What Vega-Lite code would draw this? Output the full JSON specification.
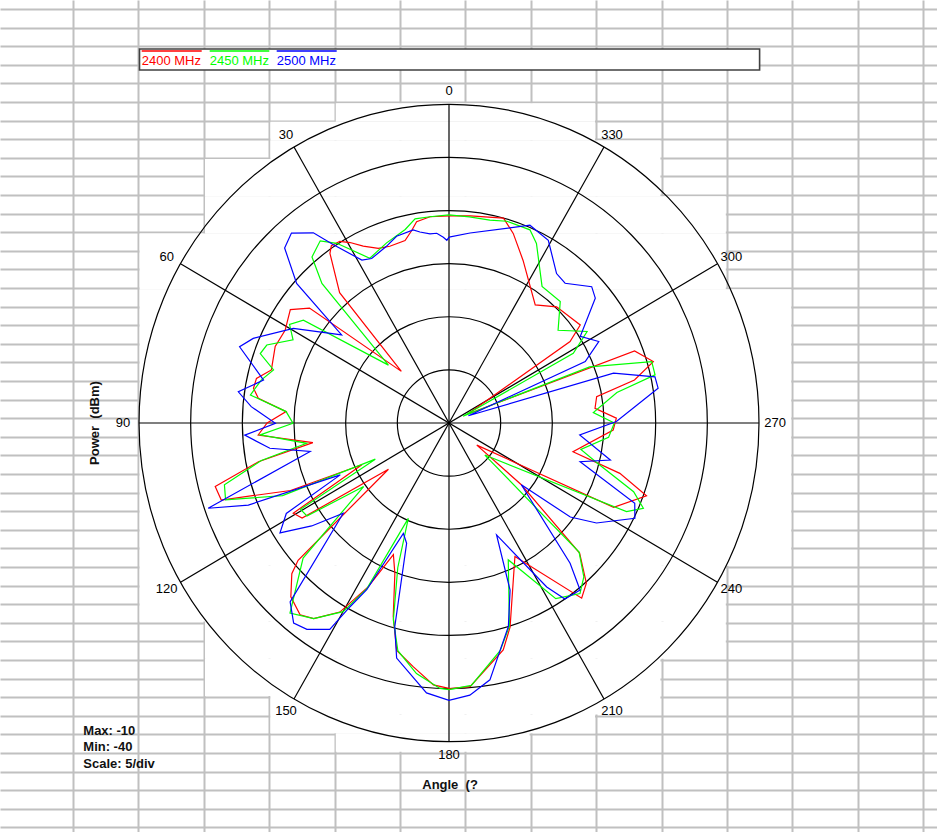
{
  "$schema": "https://vega.github.io/schema/vega-lite/v6.json",
  "width": 937,
  "height": 832,
  "autosize": {"type": "none"},
  "padding": 0,
  "background": "white",
  "config": {"view": {"stroke": null}, "font": "Liberation Sans"},
  "layer": [
    {
      "data": {"values": [
        {"r0": 5, "r1": 6, "c0": 4, "c1": 8},
        {"r0": 6, "r1": 7, "c0": 3, "c1": 8},
        {"r0": 7, "r1": 8, "c0": 3, "c1": 9},
        {"r0": 8, "r1": 10, "c0": 2, "c1": 9},
        {"r0": 10, "r1": 12, "c0": 2, "c1": 10},
        {"r0": 12, "r1": 15, "c0": 1, "c1": 10},
        {"r0": 15, "r1": 30, "c0": 1, "c1": 11},
        {"r0": 30, "r1": 33, "c0": 1, "c1": 10},
        {"r0": 33, "r1": 35, "c0": 2, "c1": 10},
        {"r0": 35, "r1": 37, "c0": 2, "c1": 9},
        {"r0": 37, "r1": 38, "c0": 3, "c1": 9},
        {"r0": 38, "r1": 39, "c0": 3, "c1": 8},
        {"r0": 39, "r1": 40, "c0": 4, "c1": 7}
      ]},
      "transform": [
        {"calculate": "-36.388 + 6.3291 * datum.c0 + 0.1161", "as": "x0"},
        {"calculate": "-36.388 + 6.3291 * datum.c1 - 0.1161", "as": "x1"},
        {"calculate": "38.972 - 1.75092 * datum.r0 + (datum.r0 <= 22 ? -0.113 : 0.113)", "as": "y0"},
        {"calculate": "38.972 - 1.75092 * datum.r1 + (datum.r1 <= 22 ? -0.113 : 0.113)", "as": "y1"}
      ],
      "mark": {"type": "rect", "fill": "white"},
      "encoding": {
        "x": {"field": "x0", "type": "quantitative",
              "scale": {"domain": [-43.452, 47.226], "nice": false, "zero": false},
              "axis": {"values": [-36.388,-30.059,-23.73,-17.401,-11.071,-4.742,1.587,7.916,14.245,20.574,26.903,33.232,39.561,45.89], "tickCount": 100, "grid": true, "gridColor": "#c0c0c0", "gridWidth": 2, "gridOpacity": 1, "labels": false, "ticks": false, "domain": false, "title": null}},
        "x2": {"field": "x1"},
        "y": {"field": "y0", "type": "quantitative",
              "scale": {"domain": [-38.502, 39.82], "nice": false, "zero": false},
              "axis": {"values": [38.972,37.221,35.47,33.719,31.968,30.217,28.466,26.716,24.965,23.214,21.463,19.712,17.961,16.21,14.459,12.708,10.957,9.206,7.455,5.704,3.954,2.203,0.452,-1.299,-3.05,-4.801,-6.552,-8.303,-10.054,-11.805,-13.556,-15.307,-17.058,-18.808,-20.559,-22.31,-24.061,-25.812,-27.563,-29.314,-31.065,-32.816,-34.567,-36.318,-38.068], "tickCount": 100, "grid": true, "gridColor": "#c0c0c0", "gridWidth": 2, "gridOpacity": 1, "labels": false, "ticks": false, "domain": false, "title": null}},
        "y2": {"field": "y1"}
      }
    },
    {"data": {"values": [{"level": -35}]}, "mark": {"type": "point", "shape": "M -1 0 A 1 1.02805 0 0 1 0 -1.02805 A 1 1.02805 0 0 1 1 0 A 1 1.02805 0 0 1 0 1.02805 A 1 1.02805 0 0 1 -1 0 Z", "size": 10677, "filled": false, "stroke": "black", "strokeWidth": 1.2, "opacity": 1}, "encoding": {"x": {"datum": 0, "type": "quantitative"}, "y": {"datum": 0, "type": "quantitative"}}},
    {"data": {"values": [{"level": -30}]}, "mark": {"type": "point", "shape": "M -1 0 A 1 1.02805 0 0 1 0 -1.02805 A 1 1.02805 0 0 1 1 0 A 1 1.02805 0 0 1 0 1.02805 A 1 1.02805 0 0 1 -1 0 Z", "size": 42710, "filled": false, "stroke": "black", "strokeWidth": 1.2, "opacity": 1}, "encoding": {"x": {"datum": 0, "type": "quantitative"}, "y": {"datum": 0, "type": "quantitative"}}},
    {"data": {"values": [{"level": -25}]}, "mark": {"type": "point", "shape": "M -1 0 A 1 1.02805 0 0 1 0 -1.02805 A 1 1.02805 0 0 1 1 0 A 1 1.02805 0 0 1 0 1.02805 A 1 1.02805 0 0 1 -1 0 Z", "size": 96097, "filled": false, "stroke": "black", "strokeWidth": 1.2, "opacity": 1}, "encoding": {"x": {"datum": 0, "type": "quantitative"}, "y": {"datum": 0, "type": "quantitative"}}},
    {"data": {"values": [{"level": -20}]}, "mark": {"type": "point", "shape": "M -1 0 A 1 1.02805 0 0 1 0 -1.02805 A 1 1.02805 0 0 1 1 0 A 1 1.02805 0 0 1 0 1.02805 A 1 1.02805 0 0 1 -1 0 Z", "size": 170840, "filled": false, "stroke": "black", "strokeWidth": 1.2, "opacity": 1}, "encoding": {"x": {"datum": 0, "type": "quantitative"}, "y": {"datum": 0, "type": "quantitative"}}},
    {"data": {"values": [{"level": -15}]}, "mark": {"type": "point", "shape": "M -1 0 A 1 1.02805 0 0 1 0 -1.02805 A 1 1.02805 0 0 1 1 0 A 1 1.02805 0 0 1 0 1.02805 A 1 1.02805 0 0 1 -1 0 Z", "size": 266937, "filled": false, "stroke": "black", "strokeWidth": 1.2, "opacity": 1}, "encoding": {"x": {"datum": 0, "type": "quantitative"}, "y": {"datum": 0, "type": "quantitative"}}},
    {"data": {"values": [{"level": -10}]}, "mark": {"type": "point", "shape": "M -1 0 A 1 1.02805 0 0 1 0 -1.02805 A 1 1.02805 0 0 1 1 0 A 1 1.02805 0 0 1 0 1.02805 A 1 1.02805 0 0 1 -1 0 Z", "size": 384390, "filled": false, "stroke": "black", "strokeWidth": 1.2, "opacity": 1}, "encoding": {"x": {"datum": 0, "type": "quantitative"}, "y": {"datum": 0, "type": "quantitative"}}},
    {
      "data": {"values": [{"a": 0}, {"a": 30}, {"a": 60}, {"a": 90}, {"a": 120}, {"a": 150}]},
      "transform": [
        {"calculate": "-30 * sin(datum.a * PI / 180)", "as": "sx1"},
        {"calculate": "30 * cos(datum.a * PI / 180)", "as": "sy1"},
        {"calculate": "30 * sin(datum.a * PI / 180)", "as": "sx2"},
        {"calculate": "-30 * cos(datum.a * PI / 180)", "as": "sy2"}
      ],
      "mark": {"type": "rule", "color": "black", "strokeWidth": 1.2},
      "encoding": {
        "x": {"field": "sx1", "type": "quantitative"},
        "y": {"field": "sy1", "type": "quantitative"},
        "x2": {"field": "sx2"},
        "y2": {"field": "sy2"}
      }
    },
    {
      "data": {"values": [{"a": 0}, {"a": 30}, {"a": 60}, {"a": 90}, {"a": 120}, {"a": 150}, {"a": 180}, {"a": 210}, {"a": 240}, {"a": 270}, {"a": 300}, {"a": 330}]},
      "transform": [
        {"calculate": "-31.55 * sin(datum.a * PI / 180)", "as": "lx"},
        {"calculate": "31.3 * cos(datum.a * PI / 180)", "as": "ly"},
        {"calculate": "'' + datum.a", "as": "lab"}
      ],
      "mark": {"type": "text", "fontSize": 13, "color": "black", "align": "center", "baseline": "middle"},
      "encoding": {
        "x": {"field": "lx", "type": "quantitative"},
        "y": {"field": "ly", "type": "quantitative"},
        "text": {"field": "lab", "type": "nominal"}
      }
    },
    {
      "data": {"values": [
        {"series":"2400 MHz","angle":0,"power":-20.5},{"series":"2400 MHz","angle":5.4,"power":-20.5},{"series":"2400 MHz","angle":9.4,"power":-20.8},{"series":"2400 MHz","angle":11.2,"power":-21.5},{"series":"2400 MHz","angle":13.9,"power":-22.3},{"series":"2400 MHz","angle":19,"power":-22.4},{"series":"2400 MHz","angle":22.6,"power":-22.2},{"series":"2400 MHz","angle":26.5,"power":-21.4},{"series":"2400 MHz","angle":29.4,"power":-20.5},{"series":"2400 MHz","angle":31.7,"power":-19.9},{"series":"2400 MHz","angle":34.3,"power":-19.8},{"series":"2400 MHz","angle":35.8,"power":-20.3},{"series":"2400 MHz","angle":40.8,"power":-23.8},{"series":"2400 MHz","angle":43.5,"power":-33.3},{"series":"2400 MHz","angle":51.3,"power":-22.7},{"series":"2400 MHz","angle":55.2,"power":-21.3},{"series":"2400 MHz","angle":61.2,"power":-21.9},{"series":"2400 MHz","angle":66.8,"power":-21.7},{"series":"2400 MHz","angle":73.8,"power":-22.1},{"series":"2400 MHz","angle":77.3,"power":-20.9},{"series":"2400 MHz","angle":80.2,"power":-20.8},{"series":"2400 MHz","angle":82.8,"power":-21.4},{"series":"2400 MHz","angle":86.1,"power":-24.2},{"series":"2400 MHz","angle":90,"power":-22.4},{"series":"2400 MHz","angle":93.5,"power":-21.5},{"series":"2400 MHz","angle":98,"power":-26.7},{"series":"2400 MHz","angle":101.2,"power":-21.2},{"series":"2400 MHz","angle":104.8,"power":-16.6},{"series":"2400 MHz","angle":108.2,"power":-16.8},{"series":"2400 MHz","angle":112.5,"power":-23.4},{"series":"2400 MHz","angle":115,"power":-30.7},{"series":"2400 MHz","angle":119.4,"power":-22.7},{"series":"2400 MHz","angle":122.2,"power":-23.2},{"series":"2400 MHz","angle":126.6,"power":-32.7},{"series":"2400 MHz","angle":131.5,"power":-20.5},{"series":"2400 MHz","angle":133,"power":-19.2},{"series":"2400 MHz","angle":136.9,"power":-17.6},{"series":"2400 MHz","angle":141.4,"power":-16.9},{"series":"2400 MHz","angle":144.6,"power":-17.4},{"series":"2400 MHz","angle":149.3,"power":-19.3},{"series":"2400 MHz","angle":153.1,"power":-22.7},{"series":"2400 MHz","angle":156.5,"power":-26.5},{"series":"2400 MHz","angle":159.7,"power":-24.9},{"series":"2400 MHz","angle":163.5,"power":-21},{"series":"2400 MHz","angle":166.7,"power":-18},{"series":"2400 MHz","angle":171.4,"power":-16.8},{"series":"2400 MHz","angle":176.5,"power":-15.3},{"series":"2400 MHz","angle":180.2,"power":-15},{"series":"2400 MHz","angle":184.7,"power":-15.1},{"series":"2400 MHz","angle":193.8,"power":-18},{"series":"2400 MHz","angle":197.1,"power":-19.9},{"series":"2400 MHz","angle":206.9,"power":-25.9},{"series":"2400 MHz","angle":217.9,"power":-19.1},{"series":"2400 MHz","angle":221.4,"power":-19.9},{"series":"2400 MHz","angle":225.9,"power":-22.4},{"series":"2400 MHz","angle":230.3,"power":-30.9},{"series":"2400 MHz","angle":232.3,"power":-36.6},{"series":"2400 MHz","angle":243.5,"power":-22.2},{"series":"2400 MHz","angle":250.3,"power":-19.7},{"series":"2400 MHz","angle":254,"power":-22.8},{"series":"2400 MHz","angle":257.3,"power":-27.7},{"series":"2400 MHz","angle":267.6,"power":-24.1},{"series":"2400 MHz","angle":271.6,"power":-23.8},{"series":"2400 MHz","angle":275.6,"power":-25.8},{"series":"2400 MHz","angle":279.8,"power":-25.5},{"series":"2400 MHz","angle":282.7,"power":-21.6},{"series":"2400 MHz","angle":286.3,"power":-19.4},{"series":"2400 MHz","angle":290.7,"power":-20.8},{"series":"2400 MHz","angle":295,"power":-38},{"series":"2400 MHz","angle":303.2,"power":-26},{"series":"2400 MHz","angle":306,"power":-24.3},{"series":"2400 MHz","angle":316.4,"power":-24.9},{"series":"2400 MHz","angle":323.1,"power":-26.1},{"series":"2400 MHz","angle":334.9,"power":-23.1},{"series":"2400 MHz","angle":340.8,"power":-21.1},{"series":"2400 MHz","angle":344.7,"power":-20},{"series":"2400 MHz","angle":354,"power":-20.4},{"series":"2400 MHz","angle":360,"power":-20.5},
        {"series":"2450 MHz","angle":0,"power":-20.4},{"series":"2450 MHz","angle":5.4,"power":-20.5},{"series":"2450 MHz","angle":9.7,"power":-20.5},{"series":"2450 MHz","angle":13.1,"power":-21.3},{"series":"2450 MHz","angle":19.6,"power":-22},{"series":"2450 MHz","angle":26.3,"power":-22.7},{"series":"2450 MHz","angle":32.7,"power":-19.9},{"series":"2450 MHz","angle":36,"power":-18.8},{"series":"2450 MHz","angle":40.3,"power":-19.5},{"series":"2450 MHz","angle":43.1,"power":-22},{"series":"2450 MHz","angle":47.1,"power":-32},{"series":"2450 MHz","angle":55.5,"power":-22.9},{"series":"2450 MHz","angle":59,"power":-22},{"series":"2450 MHz","angle":62.6,"power":-23},{"series":"2450 MHz","angle":67.4,"power":-20.9},{"series":"2450 MHz","angle":70.3,"power":-20.6},{"series":"2450 MHz","angle":73.6,"power":-22.3},{"series":"2450 MHz","angle":77.4,"power":-21.4},{"series":"2450 MHz","angle":82.2,"power":-20.6},{"series":"2450 MHz","angle":86.1,"power":-24.2},{"series":"2450 MHz","angle":90.1,"power":-24.9},{"series":"2450 MHz","angle":93.5,"power":-21.7},{"series":"2450 MHz","angle":97.9,"power":-26.1},{"series":"2450 MHz","angle":101,"power":-21.5},{"series":"2450 MHz","angle":105,"power":-17.5},{"series":"2450 MHz","angle":108.5,"power":-17.2},{"series":"2450 MHz","angle":113,"power":-22.5},{"series":"2450 MHz","angle":115.5,"power":-32.1},{"series":"2450 MHz","angle":119.5,"power":-23.5},{"series":"2450 MHz","angle":122.5,"power":-23.7},{"series":"2450 MHz","angle":125.9,"power":-29.8},{"series":"2450 MHz","angle":132,"power":-21},{"series":"2450 MHz","angle":139.3,"power":-16.4},{"series":"2450 MHz","angle":144.6,"power":-17.4},{"series":"2450 MHz","angle":150,"power":-19.5},{"series":"2450 MHz","angle":153,"power":-22.5},{"series":"2450 MHz","angle":156.3,"power":-30.2},{"series":"2450 MHz","angle":160,"power":-25.5},{"series":"2450 MHz","angle":163.8,"power":-20.7},{"series":"2450 MHz","angle":167,"power":-18},{"series":"2450 MHz","angle":172.4,"power":-16.2},{"series":"2450 MHz","angle":178,"power":-15},{"series":"2450 MHz","angle":180,"power":-14.9},{"series":"2450 MHz","angle":185,"power":-15.2},{"series":"2450 MHz","angle":193,"power":-18},{"series":"2450 MHz","angle":197,"power":-20},{"series":"2450 MHz","angle":204,"power":-25.9},{"series":"2450 MHz","angle":212,"power":-20.5},{"series":"2450 MHz","angle":218.3,"power":-19.55},{"series":"2450 MHz","angle":222,"power":-20.5},{"series":"2450 MHz","angle":226,"power":-22.5},{"series":"2450 MHz","angle":229,"power":-35.4},{"series":"2450 MHz","angle":244.1,"power":-20.9},{"series":"2450 MHz","angle":246.9,"power":-19.55},{"series":"2450 MHz","angle":250.1,"power":-21},{"series":"2450 MHz","angle":255,"power":-25},{"series":"2450 MHz","angle":259,"power":-27},{"series":"2450 MHz","angle":265,"power":-24.5},{"series":"2450 MHz","angle":270,"power":-24},{"series":"2450 MHz","angle":274,"power":-26},{"series":"2450 MHz","angle":280,"power":-23.5},{"series":"2450 MHz","angle":282.8,"power":-19.55},{"series":"2450 MHz","angle":286.4,"power":-19.55},{"series":"2450 MHz","angle":291.2,"power":-25.4},{"series":"2450 MHz","angle":295,"power":-38.5},{"series":"2450 MHz","angle":298.6,"power":-26.3},{"series":"2450 MHz","angle":302.8,"power":-24.1},{"series":"2450 MHz","angle":309.6,"power":-26.3},{"series":"2450 MHz","angle":316.7,"power":-24.3},{"series":"2450 MHz","angle":325,"power":-24.3},{"series":"2450 MHz","angle":333.4,"power":-21.1},{"series":"2450 MHz","angle":336.7,"power":-20.2},{"series":"2450 MHz","angle":343.6,"power":-20.2},{"series":"2450 MHz","angle":348.3,"power":-20.5},{"series":"2450 MHz","angle":354.2,"power":-20.5},{"series":"2450 MHz","angle":360,"power":-20.4},
        {"series":"2500 MHz","angle":0,"power":-22.5},{"series":"2500 MHz","angle":0.7,"power":-22.8},{"series":"2500 MHz","angle":1.8,"power":-22.5},{"series":"2500 MHz","angle":3.8,"power":-22.1},{"series":"2500 MHz","angle":5.9,"power":-22.1},{"series":"2500 MHz","angle":8.9,"power":-21.8},{"series":"2500 MHz","angle":10.8,"power":-21.5},{"series":"2500 MHz","angle":16.1,"power":-21.7},{"series":"2500 MHz","angle":20,"power":-22.3},{"series":"2500 MHz","angle":25.8,"power":-22.8},{"series":"2500 MHz","angle":28.8,"power":-22.5},{"series":"2500 MHz","angle":33.75,"power":-19.8},{"series":"2500 MHz","angle":36.25,"power":-17.8},{"series":"2500 MHz","angle":40.45,"power":-16.5},{"series":"2500 MHz","angle":44,"power":-17.1},{"series":"2500 MHz","angle":48.3,"power":-20.25},{"series":"2500 MHz","angle":51.4,"power":-26.7},{"series":"2500 MHz","angle":59.4,"power":-22.5},{"series":"2500 MHz","angle":67.2,"power":-19.45},{"series":"2500 MHz","angle":70.5,"power":-18.5},{"series":"2500 MHz","angle":77.3,"power":-21.6},{"series":"2500 MHz","angle":81.8,"power":-19.4},{"series":"2500 MHz","angle":85.4,"power":-20.8},{"series":"2500 MHz","angle":90.1,"power":-23.2},{"series":"2500 MHz","angle":93.3,"power":-20.2},{"series":"2500 MHz","angle":97.8,"power":-22.5},{"series":"2500 MHz","angle":101.3,"power":-26.3},{"series":"2500 MHz","angle":109,"power":-15.35},{"series":"2500 MHz","angle":111.7,"power":-19.1},{"series":"2500 MHz","angle":114.9,"power":-28.4},{"series":"2500 MHz","angle":118.4,"power":-22.1},{"series":"2500 MHz","angle":122.3,"power":-20.65},{"series":"2500 MHz","angle":126.1,"power":-23.55},{"series":"2500 MHz","angle":129.7,"power":-26.7},{"series":"2500 MHz","angle":137.6,"power":-17.2},{"series":"2500 MHz","angle":141.4,"power":-15.9},{"series":"2500 MHz","angle":144.7,"power":-16.2},{"series":"2500 MHz","angle":149.3,"power":-17.4},{"series":"2500 MHz","angle":151,"power":-20.2},{"series":"2500 MHz","angle":153.1,"power":-22.4},{"series":"2500 MHz","angle":157,"power":-28.7},{"series":"2500 MHz","angle":160.1,"power":-27.95},{"series":"2500 MHz","angle":164.7,"power":-20.1},{"series":"2500 MHz","angle":167.1,"power":-17.3},{"series":"2500 MHz","angle":175.1,"power":-14.5},{"series":"2500 MHz","angle":180,"power":-13.9},{"series":"2500 MHz","angle":184.5,"power":-14.3},{"series":"2500 MHz","angle":189.3,"power":-15.5},{"series":"2500 MHz","angle":196.7,"power":-20},{"series":"2500 MHz","angle":200.6,"power":-23.2},{"series":"2500 MHz","angle":203.6,"power":-28.5},{"series":"2500 MHz","angle":211.5,"power":-21.9},{"series":"2500 MHz","angle":214.1,"power":-20},{"series":"2500 MHz","angle":218.9,"power":-19.8},{"series":"2500 MHz","angle":221.6,"power":-22.35},{"series":"2500 MHz","angle":230.3,"power":-30.9},{"series":"2500 MHz","angle":233,"power":-25.3},{"series":"2500 MHz","angle":236.6,"power":-22.9},{"series":"2500 MHz","angle":243.5,"power":-19.9},{"series":"2500 MHz","angle":247.2,"power":-20.5},{"series":"2500 MHz","angle":254,"power":-26.8},{"series":"2500 MHz","angle":257.4,"power":-24},{"series":"2500 MHz","angle":264.9,"power":-27.3},{"series":"2500 MHz","angle":270.5,"power":-23.8},{"series":"2500 MHz","angle":279.2,"power":-19.5},{"series":"2500 MHz","angle":282.3,"power":-19.6},{"series":"2500 MHz","angle":286.4,"power":-23.4},{"series":"2500 MHz","angle":290,"power":-38},{"series":"2500 MHz","angle":293.7,"power":-25.6},{"series":"2500 MHz","angle":297.9,"power":-23.6},{"series":"2500 MHz","angle":302.7,"power":-24.9},{"series":"2500 MHz","angle":309.7,"power":-21.6},{"series":"2500 MHz","angle":312.9,"power":-21.15},{"series":"2500 MHz","angle":319.5,"power":-22.7},{"series":"2500 MHz","angle":323.5,"power":-22.5},{"series":"2500 MHz","angle":330.8,"power":-20.3},{"series":"2500 MHz","angle":337.2,"power":-19.8},{"series":"2500 MHz","angle":353.5,"power":-22},{"series":"2500 MHz","angle":360,"power":-22.5}
      ]},
      "transform": [
        {"calculate": "-(datum.power + 40) * sin(datum.angle * PI / 180)", "as": "px"},
        {"calculate": "(datum.power + 40) * cos(datum.angle * PI / 180)", "as": "py"}
      ],
      "mark": {"type": "line", "strokeWidth": 1.2},
      "encoding": {
        "x": {"field": "px", "type": "quantitative"},
        "y": {"field": "py", "type": "quantitative"},
        "color": {"field": "series", "type": "nominal", "scale": {"domain": ["2400 MHz", "2450 MHz", "2500 MHz"], "range": ["#ff0000", "#00ff00", "#0000ff"]}, "legend": null},
        "order": {"field": "angle", "type": "quantitative"}
      }
    },
    {
      "data": {"values": [{"item": "legend box"}]},
      "transform": [
        {"calculate": "-29.952", "as": "bx0"}, {"calculate": "30.058", "as": "bx1"},
        {"calculate": "35.207", "as": "by0"}, {"calculate": "33.23", "as": "by1"}
      ],
      "mark": {"type": "rect", "fill": "white", "stroke": "#404040", "strokeWidth": 1.6},
      "encoding": {
        "x": {"field": "bx0", "type": "quantitative"},
        "x2": {"field": "bx1"},
        "y": {"field": "by0", "type": "quantitative"},
        "y2": {"field": "by1"}
      }
    },
    {
      "data": {"values": [{"series": "2400 MHz"}]},
      "transform": [{"calculate": "-29.739", "as": "tx"}, {"calculate": "-23.932", "as": "tx2"}, {"calculate": "34.077", "as": "ty"}, {"calculate": "35.019", "as": "oy"}],
      "layer": [
        {"mark": {"type": "text", "fontSize": 13, "align": "left", "baseline": "middle", "color": "#ff0000"},
         "encoding": {"x": {"field": "tx", "type": "quantitative"}, "y": {"field": "ty", "type": "quantitative"}, "text": {"field": "series", "type": "nominal"}}},
        {"mark": {"type": "rule", "strokeWidth": 1.3, "color": "#ff0000"},
         "encoding": {"x": {"field": "tx", "type": "quantitative"}, "x2": {"field": "tx2"}, "y": {"field": "oy", "type": "quantitative"}}}
      ]
    },
    {
      "data": {"values": [{"series": "2450 MHz"}]},
      "transform": [{"calculate": "-23.158", "as": "tx"}, {"calculate": "-17.391", "as": "tx2"}, {"calculate": "34.077", "as": "ty"}, {"calculate": "35.019", "as": "oy"}],
      "layer": [
        {"mark": {"type": "text", "fontSize": 13, "align": "left", "baseline": "middle", "color": "#00ff00"},
         "encoding": {"x": {"field": "tx", "type": "quantitative"}, "y": {"field": "ty", "type": "quantitative"}, "text": {"field": "series", "type": "nominal"}}},
        {"mark": {"type": "rule", "strokeWidth": 1.3, "color": "#00ff00"},
         "encoding": {"x": {"field": "tx", "type": "quantitative"}, "x2": {"field": "tx2"}, "y": {"field": "oy", "type": "quantitative"}}}
      ]
    },
    {
      "data": {"values": [{"series": "2500 MHz"}]},
      "transform": [{"calculate": "-16.675", "as": "tx"}, {"calculate": "-10.868", "as": "tx2"}, {"calculate": "34.077", "as": "ty"}, {"calculate": "35.019", "as": "oy"}],
      "layer": [
        {"mark": {"type": "text", "fontSize": 13, "align": "left", "baseline": "middle", "color": "#0000ff"},
         "encoding": {"x": {"field": "tx", "type": "quantitative"}, "y": {"field": "ty", "type": "quantitative"}, "text": {"field": "series", "type": "nominal"}}},
        {"mark": {"type": "rule", "strokeWidth": 1.3, "color": "#0000ff"},
         "encoding": {"x": {"field": "tx", "type": "quantitative"}, "x2": {"field": "tx2"}, "y": {"field": "oy", "type": "quantitative"}}}
      ]
    },
    {
      "data": {"values": [{"t": "Max: -10"}]},
      "mark": {"type": "text", "fontSize": 13, "fontWeight": "bold", "align": "left", "baseline": "middle", "color": "#111111"},
      "encoding": {"x": {"datum": -35.391, "type": "quantitative"}, "y": {"datum": -29.041, "type": "quantitative"}, "text": {"field": "t", "type": "nominal"}}
    },
    {
      "data": {"values": [{"t": "Min: -40"}]},
      "mark": {"type": "text", "fontSize": 13, "fontWeight": "bold", "align": "left", "baseline": "middle", "color": "#111111"},
      "encoding": {"x": {"datum": -35.391, "type": "quantitative"}, "y": {"datum": -30.547, "type": "quantitative"}, "text": {"field": "t", "type": "nominal"}}
    },
    {
      "data": {"values": [{"t": "Scale: 5/div"}]},
      "mark": {"type": "text", "fontSize": 13, "fontWeight": "bold", "align": "left", "baseline": "middle", "color": "#111111"},
      "encoding": {"x": {"datum": -35.391, "type": "quantitative"}, "y": {"datum": -32.1, "type": "quantitative"}, "text": {"field": "t", "type": "nominal"}}
    },
    {
      "data": {"values": [{"t": "Power \u00a0(dBm)"}]},
      "mark": {"type": "text", "fontSize": 13, "fontWeight": "bold", "align": "center", "baseline": "middle", "angle": 270, "color": "#111111"},
      "encoding": {"x": {"datum": -34.259, "type": "quantitative"}, "y": {"datum": 0, "type": "quantitative"}, "text": {"field": "t", "type": "nominal"}}
    },
    {
      "data": {"values": [{"t": "Angle \u00a0(?"}]},
      "mark": {"type": "text", "fontSize": 13, "fontWeight": "bold", "align": "center", "baseline": "middle", "color": "#111111"},
      "encoding": {"x": {"datum": 0.1, "type": "quantitative"}, "y": {"datum": -34.077, "type": "quantitative"}, "text": {"field": "t", "type": "nominal"}}
    }
  ]
}
